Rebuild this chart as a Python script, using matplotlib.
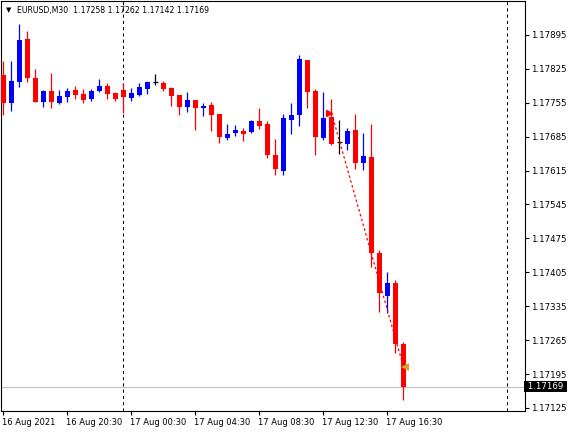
import pandas as pd
import matplotlib
matplotlib.use("Agg")
import matplotlib.pyplot as plt
import matplotlib.transforms as mtransforms

plt.rcParams.update({
    "font.family": "DejaVu Sans",
    "font.size": 6,
})

# --------------------------------------------------
# Data: EURUSD M30 bars, 16 Aug 2021 16:30 .. 17 Aug 17:30
# --------------------------------------------------
symbol = "EURUSD,M30"
times = pd.date_range("2021-08-16 16:30", periods=51, freq="30min")

opens = [1.17812, 1.17755, 1.17798, 1.17887, 1.17806, 1.17757, 1.17779, 1.17755, 1.17767, 1.17781,
         1.17773, 1.17763, 1.17779, 1.17790, 1.17775, 1.17781, 1.17765, 1.17771, 1.17784, 1.17798,
         1.17796, 1.17786, 1.17771, 1.17746, 1.17761, 1.17745, 1.17751, 1.17732, 1.17682, 1.17693,
         1.17697, 1.17694, 1.17717, 1.17711, 1.17647, 1.17615, 1.17720, 1.17730, 1.17843, 1.17779,
         1.17682, 1.17725, 1.17674, 1.17670, 1.17699, 1.17631, 1.17643, 1.17445, 1.17357, 1.17383,
         1.17258]
highs = [1.17841, 1.17841, 1.17918, 1.17903, 1.17825, 1.17781, 1.17817, 1.17781, 1.17786, 1.17790,
         1.17784, 1.17784, 1.17804, 1.17796, 1.17777, 1.17796, 1.17786, 1.17796, 1.17800, 1.17814,
         1.17800, 1.17788, 1.17771, 1.17777, 1.17761, 1.17755, 1.17757, 1.17732, 1.17711, 1.17709,
         1.17703, 1.17720, 1.17744, 1.17717, 1.17680, 1.17732, 1.17755, 1.17854, 1.17843, 1.17784,
         1.17778, 1.17763, 1.17720, 1.17703, 1.17732, 1.17693, 1.17711, 1.17451, 1.17406, 1.17389,
         1.17262]
lows = [1.17730, 1.17738, 1.17788, 1.17798, 1.17757, 1.17746, 1.17744, 1.17753, 1.17757, 1.17763,
        1.17755, 1.17759, 1.17777, 1.17763, 1.17759, 1.17734, 1.17759, 1.17769, 1.17773, 1.17792,
        1.17779, 1.17748, 1.17730, 1.17736, 1.17699, 1.17728, 1.17697, 1.17672, 1.17678, 1.17687,
        1.17677, 1.17693, 1.17701, 1.17640, 1.17606, 1.17606, 1.17691, 1.17707, 1.17744, 1.17647,
        1.17678, 1.17668, 1.17649, 1.17658, 1.17618, 1.17616, 1.17417, 1.17324, 1.17321, 1.17239,
        1.17142]
closes = [1.17755, 1.17800, 1.17885, 1.17806, 1.17757, 1.17779, 1.17757, 1.17769, 1.17779, 1.17771,
          1.17761, 1.17779, 1.17790, 1.17773, 1.17763, 1.17767, 1.17775, 1.17788, 1.17798, 1.17798,
          1.17784, 1.17769, 1.17746, 1.17761, 1.17744, 1.17749, 1.17730, 1.17685, 1.17691, 1.17699,
          1.17691, 1.17717, 1.17707, 1.17648, 1.17618, 1.17724, 1.17730, 1.17845, 1.17778, 1.17685,
          1.17724, 1.17670, 1.17674, 1.17697, 1.17631, 1.17645, 1.17445, 1.17362, 1.17383, 1.17257,
          1.17169]

# one closed sell trade drawn on the chart
trade_open_time = "2021-08-17 13:00"
trade_open_price = 1.17734
trade_close_time = "2021-08-17 17:30"
trade_close_price = 1.17210

price_ticks = [1.17125, 1.17195, 1.17265, 1.17335, 1.17405, 1.17475,
               1.17545, 1.17615, 1.17685, 1.17755, 1.17825, 1.17895]
time_ticks = ["2021-08-16 16:30", "2021-08-16 20:30", "2021-08-17 00:30", "2021-08-17 04:30",
              "2021-08-17 08:30", "2021-08-17 12:30", "2021-08-17 16:30"]
time_labels = ["16 Aug 2021", "16 Aug 20:30", "17 Aug 00:30", "17 Aug 04:30",
               "17 Aug 08:30", "17 Aug 12:30", "17 Aug 16:30"]
day_separators = ["2021-08-17 00:00", "2021-08-18 00:00"]


def bar_pos(t):
    # position in bar units (30 min per bar) relative to the first bar
    return (pd.Timestamp(t) - times[0]) / pd.Timedelta("30min")


UP = "#0000FF"
DOWN = "#FF0000"
DOJI = "#000000"

fig = plt.figure(figsize=(5.72, 4.32), dpi=100)
ax = fig.add_axes([1 / 572, 21 / 432, 524 / 572, 410 / 432])

# --------------------------------------------------
# Candles
# --------------------------------------------------
xs = list(range(len(times)))
colors = []
for o, c in zip(opens, closes):
    if c > o:
        colors.append(UP)
    elif c < o:
        colors.append(DOWN)
    else:
        colors.append(DOJI)

ax.vlines(xs, lows, highs, colors=colors, linewidth=0.9, zorder=3)

body_w = 0.625
for x, o, c, col in zip(xs, opens, closes, colors):
    if o == c:
        ax.hlines(o, x - body_w / 2, x + body_w / 2, colors=col, linewidth=0.9, zorder=4)
    else:
        ax.bar(x, abs(c - o), bottom=min(o, c), width=body_w, color=col,
               linewidth=0, zorder=4)

# current bid line
bid = closes[-1]
ax.axhline(bid, color="#C0C0C0", linewidth=0.8, zorder=1)

# period separators
for t in day_separators:
    ax.axvline(bar_pos(t), color="black", linewidth=0.75,
               linestyle=(0, (3, 3)), zorder=2)

# trade line and arrows
x_open = bar_pos(trade_open_time)
x_close = bar_pos(trade_close_time)
ax.plot([x_open, x_close], [trade_open_price, trade_close_price],
        color=DOWN, linewidth=0.9, linestyle=(0, (2, 2)), zorder=5)
ax.plot(x_open - 0.3, trade_open_price, marker=">", color=DOWN,
        markersize=4, zorder=6)
ax.plot(x_close + 0.15, trade_close_price, marker="<", color="#DAA520",
        markersize=5.5, markeredgewidth=0, zorder=6)

# --------------------------------------------------
# Axes
# --------------------------------------------------
ax.set_xlim(-0.3125, 65.19)
ax.set_ylim(1.171188, 1.17965)

for spine in ax.spines.values():
    spine.set_linewidth(0.8)

ax.yaxis.tick_right()
ax.set_yticks(price_ticks)
ax.set_yticklabels([f"{p:.5f}" for p in price_ticks])
ax.tick_params(axis="y", direction="out", length=3, width=0.8, pad=1.5,
               labelsize=6.2)

ax.set_xticks([bar_pos(t) for t in time_ticks])
ax.set_xticklabels(time_labels)
ax.tick_params(axis="x", direction="out", length=3, width=0.8, pad=2,
               labelsize=6.0)
shift = mtransforms.ScaledTranslation(-1 / 100, 0, fig.dpi_scale_trans)
for lbl in ax.get_xticklabels():
    lbl.set_horizontalalignment("left")
    lbl.set_transform(lbl.get_transform() + shift)

# bid label on the price scale
ax.text(1.0, bid, f" {bid:.5f} ", transform=ax.get_yaxis_transform(),
        ha="left", va="center", color="white", fontsize=6.2,
        bbox=dict(boxstyle="square,pad=0.1", facecolor="black", edgecolor="none"),
        clip_on=False, zorder=10)

# header
fig.text(6 / 572, 1 - 10 / 432, "\u25bc", fontsize=5, va="center", ha="left")
fig.text(17 / 572, 1 - 10 / 432,
         f"{symbol}  {opens[-1]:.5f} {highs[-1]:.5f} {lows[-1]:.5f} {closes[-1]:.5f}",
         fontsize=5.6, va="center", ha="left")

fig.savefig("out.png", dpi=100)
